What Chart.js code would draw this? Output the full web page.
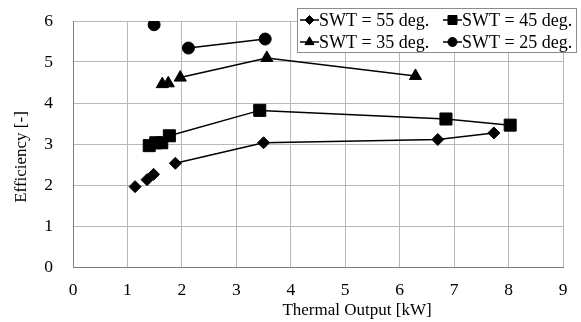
<!DOCTYPE html>
<html>
<head>
<meta charset="utf-8">
<script src="https://cdn.jsdelivr.net/npm/chart.js@4"></script>
<style>
  html, body { margin: 0; padding: 0; background: #fff; }
  #box { width: 581px; height: 322px; }
</style>
</head>
<body>
<div id="box"><canvas id="myChart"></canvas></div>
<script>

// SWT = 55 deg.
var thermal55 = [1.14, 1.36, 1.48, 1.88, 3.50, 6.70, 7.73];
var eff55 = [1.96, 2.13, 2.26, 2.53, 3.03, 3.11, 3.27];

// SWT = 45 deg.
var thermal45 = [1.40, 1.52, 1.63, 1.77, 3.43, 6.85, 8.03];
var eff45 = [2.96, 3.03, 3.03, 3.20, 3.82, 3.61, 3.46];

// SWT = 35 deg.
var thermal35 = [1.64, 1.75, 1.97, 3.56, 6.29];
var eff35 = [4.46, 4.48, 4.62, 5.10, 4.66];

// SWT = 25 deg.
var thermal25 = [1.49, 2.12, 3.53];
var eff25 = [5.91, 5.34, 5.56];

var seriesLabels = ['SWT = 55 deg.', 'SWT = 45 deg.', 'SWT = 35 deg.', 'SWT = 25 deg.'];
var xTicks = [0, 1, 2, 3, 4, 5, 6, 7, 8, 9];
var yTicks = [0, 1, 2, 3, 4, 5, 6];

var FONT = '"Liberation Serif", "Times New Roman", serif';

function toPoints(xs, ys) {

  var pts = [];

  for (var i = 0; i < xs.length; i++) {
    pts.push({ x: xs[i], y: ys[i] });
  }

  return pts;
}

// first few points of each run are not joined by the line
function makeSeries(label, xs, ys, style, radius, joinFrom) {

  return {
    label: label,
    data: toPoints(xs, ys),
    showLine: true,
    borderColor: '#000',
    borderWidth: 1.5,
    pointStyle: style,
    pointRadius: radius,
    pointHoverRadius: radius,
    pointBackgroundColor: '#000',
    pointBorderColor: '#000',
    pointBorderWidth: 1,
    legendRadius: radius * 0.75,
    segment: {
      borderColor: function(ctx) {
        return ctx.p0DataIndex < joinFrom ? 'rgba(0,0,0,0)' : '#000';
      }
    }
  };
}

var legendAndTitles = {
  id: 'legendAndTitles',
  afterDraw: function(chart) {

    var ctx = chart.ctx;
    ctx.save();

    // axis titles
    ctx.fillStyle = '#000';
    ctx.font = '17px ' + FONT;
    ctx.textAlign = 'center';
    ctx.textBaseline = 'middle';
    ctx.fillText('Thermal Output [kW]', 357, 311);

    ctx.save();
    ctx.translate(22, 157);
    ctx.rotate(-Math.PI / 2);
    ctx.fillText('Efficiency [-]', 0, 0);
    ctx.restore();

    // legend box
    ctx.fillStyle = '#fff';
    ctx.fillRect(297, 8, 280, 45);
    ctx.strokeStyle = '#8c8c8c';
    ctx.lineWidth = 1;
    ctx.strokeRect(297.5, 8.5, 279, 44);

    var cols = [300, 443];
    var rows = [20, 42];
    ctx.font = '18px ' + FONT;
    ctx.textAlign = 'left';

    chart.data.datasets.forEach(function(ds, i) {
      var x0 = cols[i % 2];
      var y0 = rows[Math.floor(i / 2)];

      ctx.strokeStyle = '#000';
      ctx.lineWidth = 1.5;
      ctx.beginPath();
      ctx.moveTo(x0, y0);
      ctx.lineTo(x0 + 19, y0);
      ctx.stroke();

      ctx.fillStyle = '#000';
      ctx.lineWidth = 1;
      Chart.helpers.drawPoint(ctx, {
        pointStyle: ds.pointStyle,
        radius: ds.legendRadius,
        rotation: 0,
        borderWidth: 1
      }, x0 + 9.5, y0);

      ctx.fillStyle = '#000';
      ctx.fillText(ds.label, x0 + 19, y0 + 1);
    });

    ctx.restore();
  }
};

function stampChart() {

  var ctx = document.getElementById('myChart').getContext('2d');

  var chart = new Chart(ctx, {
    type: 'scatter',
    data: {
      datasets: [
        makeSeries(seriesLabels[0], thermal55, eff55, 'rectRot', 6, 3),
        makeSeries(seriesLabels[1], thermal45, eff45, 'rect', 8.5, 3),
        makeSeries(seriesLabels[2], thermal35, eff35, 'triangle', 7, 2),
        makeSeries(seriesLabels[3], thermal25, eff25, 'circle', 6, 1)
      ]
    },
    options: {
      responsive: true,
      maintainAspectRatio: false,
      animation: false,
      events: [],
      layout: { padding: { top: 21, right: 18, left: 0, bottom: 0 } },
      plugins: {
        legend: { display: false },
        tooltip: { enabled: false }
      },
      scales: {
        x: {
          type: 'linear',
          min: 0,
          max: 9,
          afterFit: function(scale) {
            scale.height = 55;
            scale.paddingLeft = 0;
            scale.paddingRight = 0;
          },
          afterBuildTicks: function(scale) {
            scale.ticks = xTicks.map(function(v) { return { value: v }; });
          },
          ticks: {
            padding: 13,
            color: '#000',
            font: { family: FONT, size: 17.5 }
          },
          grid: { color: '#b8b8b8', lineWidth: 1, drawTicks: false },
          border: { color: '#7f7f7f', width: 1 }
        },
        y: {
          type: 'linear',
          min: 0,
          max: 6,
          afterFit: function(scale) {
            scale.width = 73;
            scale.paddingTop = 0;
            scale.paddingBottom = 0;
          },
          afterBuildTicks: function(scale) {
            scale.ticks = yTicks.map(function(v) { return { value: v }; });
          },
          ticks: {
            padding: 20,
            color: '#000',
            font: { family: FONT, size: 17.5 }
          },
          grid: { color: '#b8b8b8', lineWidth: 1, drawTicks: false },
          border: { color: '#7f7f7f', width: 1 }
        }
      }
    },
    plugins: [legendAndTitles]
  });
}

function init() {

  stampChart();
}

init();
</script>
</body>
</html>
